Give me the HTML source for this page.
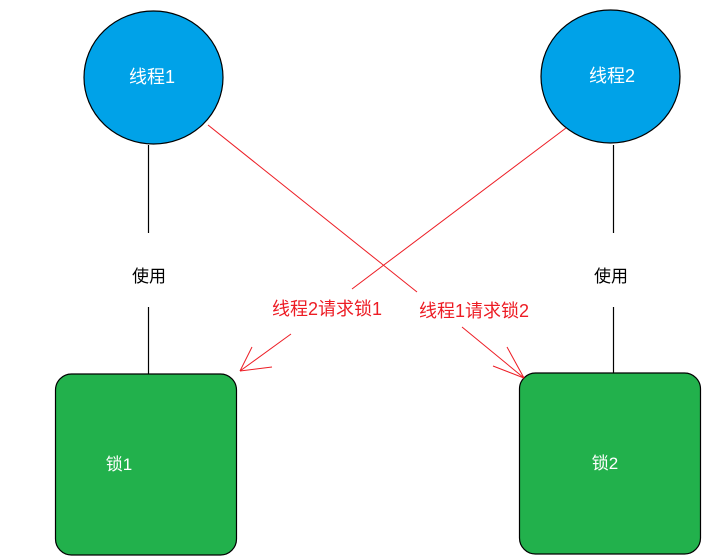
<!DOCTYPE html>
<html><head><meta charset="utf-8"><style>
html,body{margin:0;padding:0;background:#fff;}
svg{display:block;}
text{font-family:"Liberation Sans","Noto Sans CJK SC",sans-serif;}
</style></head><body>
<svg width="713" height="559" viewBox="0 0 713 559" xmlns="http://www.w3.org/2000/svg">
<g stroke="#000" stroke-width="1.2">
<line x1="148.5" y1="145" x2="148.5" y2="233"/>
<line x1="148.5" y1="307" x2="148.5" y2="374"/>
<line x1="613.5" y1="145" x2="613.5" y2="233"/>
<line x1="613.5" y1="307" x2="613.5" y2="373"/>
</g>
<ellipse cx="153.5" cy="77.5" rx="69.5" ry="66.5" fill="#00a2e8" stroke="#000" stroke-width="1.2"/>
<ellipse cx="610.5" cy="76.5" rx="69.5" ry="66.5" fill="#00a2e8" stroke="#000" stroke-width="1.2"/>
<rect x="55.5" y="374" width="181" height="181" rx="16" fill="#22b14c" stroke="#000" stroke-width="1.2"/>
<rect x="519.5" y="373" width="181" height="181" rx="16" fill="#22b14c" stroke="#000" stroke-width="1.2"/>
<g stroke="#ed1c24" stroke-width="1" fill="none">
<line x1="208" y1="125" x2="417" y2="292"/>
<line x1="462" y1="327" x2="524" y2="378"/>
<line x1="507" y1="347" x2="524" y2="378"/>
<line x1="493" y1="366" x2="524" y2="378"/>
<line x1="566" y1="128" x2="352" y2="289"/>
<line x1="291" y1="334" x2="240" y2="371"/>
<line x1="252" y1="347" x2="240" y2="371"/>
<line x1="272" y1="367" x2="240" y2="371"/>
</g>
<g font-size="18" fill="#fff" text-anchor="middle">
<text x="152" y="83">线程1</text>
<text x="612" y="82">线程2</text>
</g>
<g font-size="17" fill="#fff" text-anchor="middle">
<text x="119" y="470">锁1</text>
<text x="605" y="469">锁2</text>
</g>
<g font-size="17" fill="#000" text-anchor="middle">
<text x="149" y="282">使用</text>
<text x="611" y="282">使用</text>
</g>
<g font-size="18" fill="#ed1c24" text-anchor="middle">
<text x="327" y="315">线程2请求锁1</text>
<text x="474" y="317">线程1请求锁2</text>
</g>
</svg>
</body></html>
